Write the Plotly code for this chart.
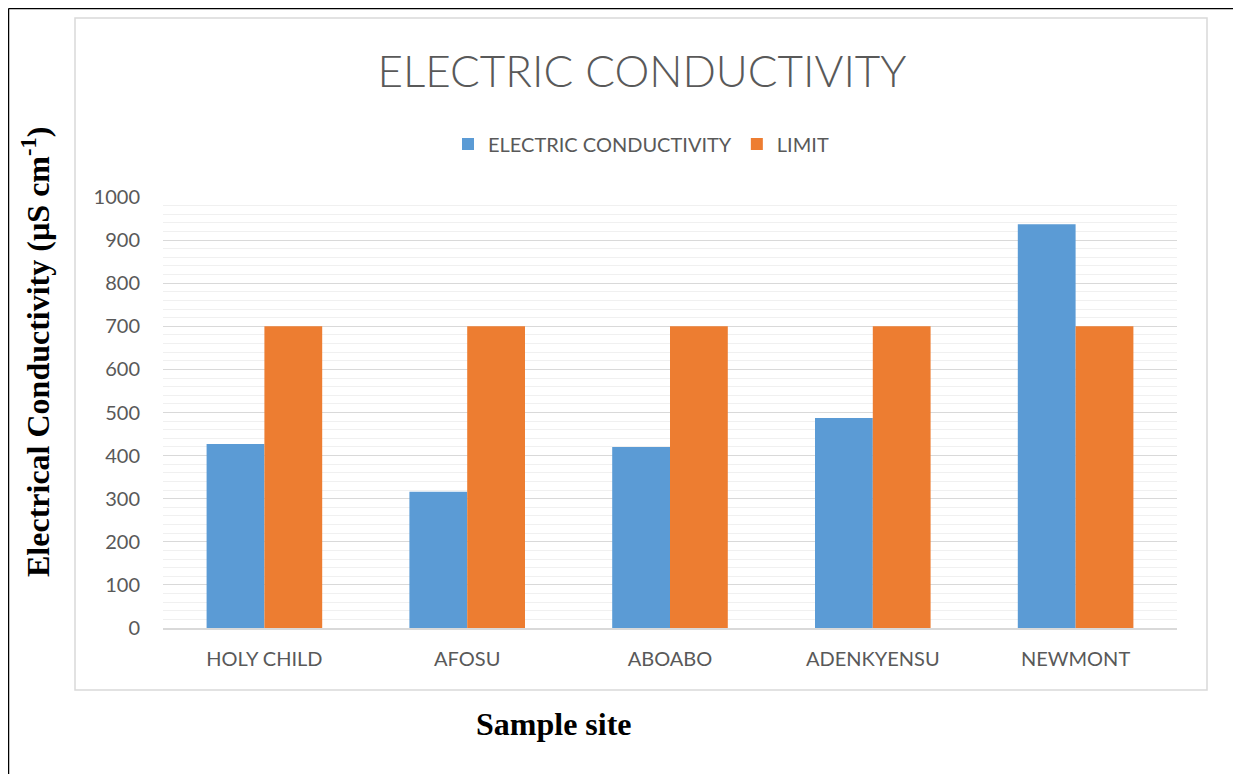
import plotly.graph_objects as go

sites = ["HOLY CHILD", "AFOSU", "ABOABO", "ADENKYENSU", "NEWMONT"]
conductivity = [427, 316, 420, 487, 937]
limit = [700, 700, 700, 700, 700]
y_ticks = [0, 100, 200, 300, 400, 500, 600, 700, 800, 900, 1000]

W, H = 1241, 774
OFF = 8  # page body margin of the html page
# plot area in reference pixel coordinates
PL, PR, PT, PB = 163, 1177, 197, 628
L, T = PL - OFF, PT - OFF
R, B = W - (PR - OFF), H - (PB - OFF)
pw, ph = PR - PL, PB - PT

def px(x):
    return (x - PL) / pw

def py(y):
    return (PB - y) / ph

FONT = "Lato, Open Sans, sans-serif"
SERIF = "Liberation Serif, Times New Roman, serif"
tick_font = dict(family=FONT, size=20, color="#595959")

fig = go.Figure()
fig.add_trace(go.Bar(name="ELECTRIC CONDUCTIVITY", x=sites, y=conductivity,
                     marker=dict(color="#5b9bd5", line=dict(width=0))))
fig.add_trace(go.Bar(name="LIMIT", x=sites, y=limit,
                     marker=dict(color="#ed7d31", line=dict(width=0))))

fig.update_layout(
    width=W, height=H,
    margin=dict(l=L, r=R, t=T, b=B),
    paper_bgcolor="white", plot_bgcolor="white",
    barmode="group", bargap=0.43, bargroupgap=0,
    title=dict(text="ELECTRIC CONDUCTIVITY", x=px(642), xref="paper", xanchor="center",
               y=1 - (72 - OFF) / H, yanchor="middle",
               font=dict(family=FONT, size=44, color="#595959", weight=300)),
    legend=dict(orientation="h", x=px(641), xanchor="center", y=py(144), yanchor="middle",
                font=dict(family=FONT, size=20, color="#595959"),
                itemwidth=30, tracegroupgap=0, bgcolor="rgba(0,0,0,0)"),
    showlegend=True,
)
fig.update_xaxes(showgrid=False, showline=True, linecolor="#d9d9d9", linewidth=1.5,
                 ticks="", tickfont=tick_font, ticklabelstandoff=12, fixedrange=True)
fig.update_yaxes(range=[0, 1000], tickvals=y_ticks, showgrid=True, gridcolor="#d9d9d9",
                 gridwidth=1, zeroline=False, showline=False, ticks="",
                 tickfont=tick_font, ticklabelstandoff=22,
                 minor=dict(dtick=20, showgrid=True, gridcolor="#f0f0f0", gridwidth=1))

# inner chart-area border
fig.add_shape(type="rect", xref="paper", yref="paper",
              x0=px(75), x1=px(1207), y0=py(690), y1=py(18),
              line=dict(color="#d9d9d9", width=1.5), layer="below")
# outer frame (top and left edges)
fig.add_shape(type="line", xref="paper", yref="paper",
              x0=px(8.5), x1=px(1260), y0=py(8.5), y1=py(8.5),
              line=dict(color="black", width=1.5))
fig.add_shape(type="line", xref="paper", yref="paper",
              x0=px(8.5), x1=px(8.5), y0=py(8.5), y1=py(800),
              line=dict(color="black", width=1.5))

fig.add_annotation(text="Electrical Conductivity (µS cm<sup>-1</sup>)", textangle=-90,
                   xref="paper", yref="paper", x=px(36), y=py(352),
                   xanchor="center", yanchor="middle", showarrow=False,
                   font=dict(family=SERIF, size=32, color="black", weight="bold"))
fig.add_annotation(text="Sample site", xref="paper", yref="paper", x=px(554), y=py(724),
                   xanchor="center", yanchor="middle", showarrow=False,
                   font=dict(family=SERIF, size=32, color="black", weight="bold"))

fig.write_html("out.html")
